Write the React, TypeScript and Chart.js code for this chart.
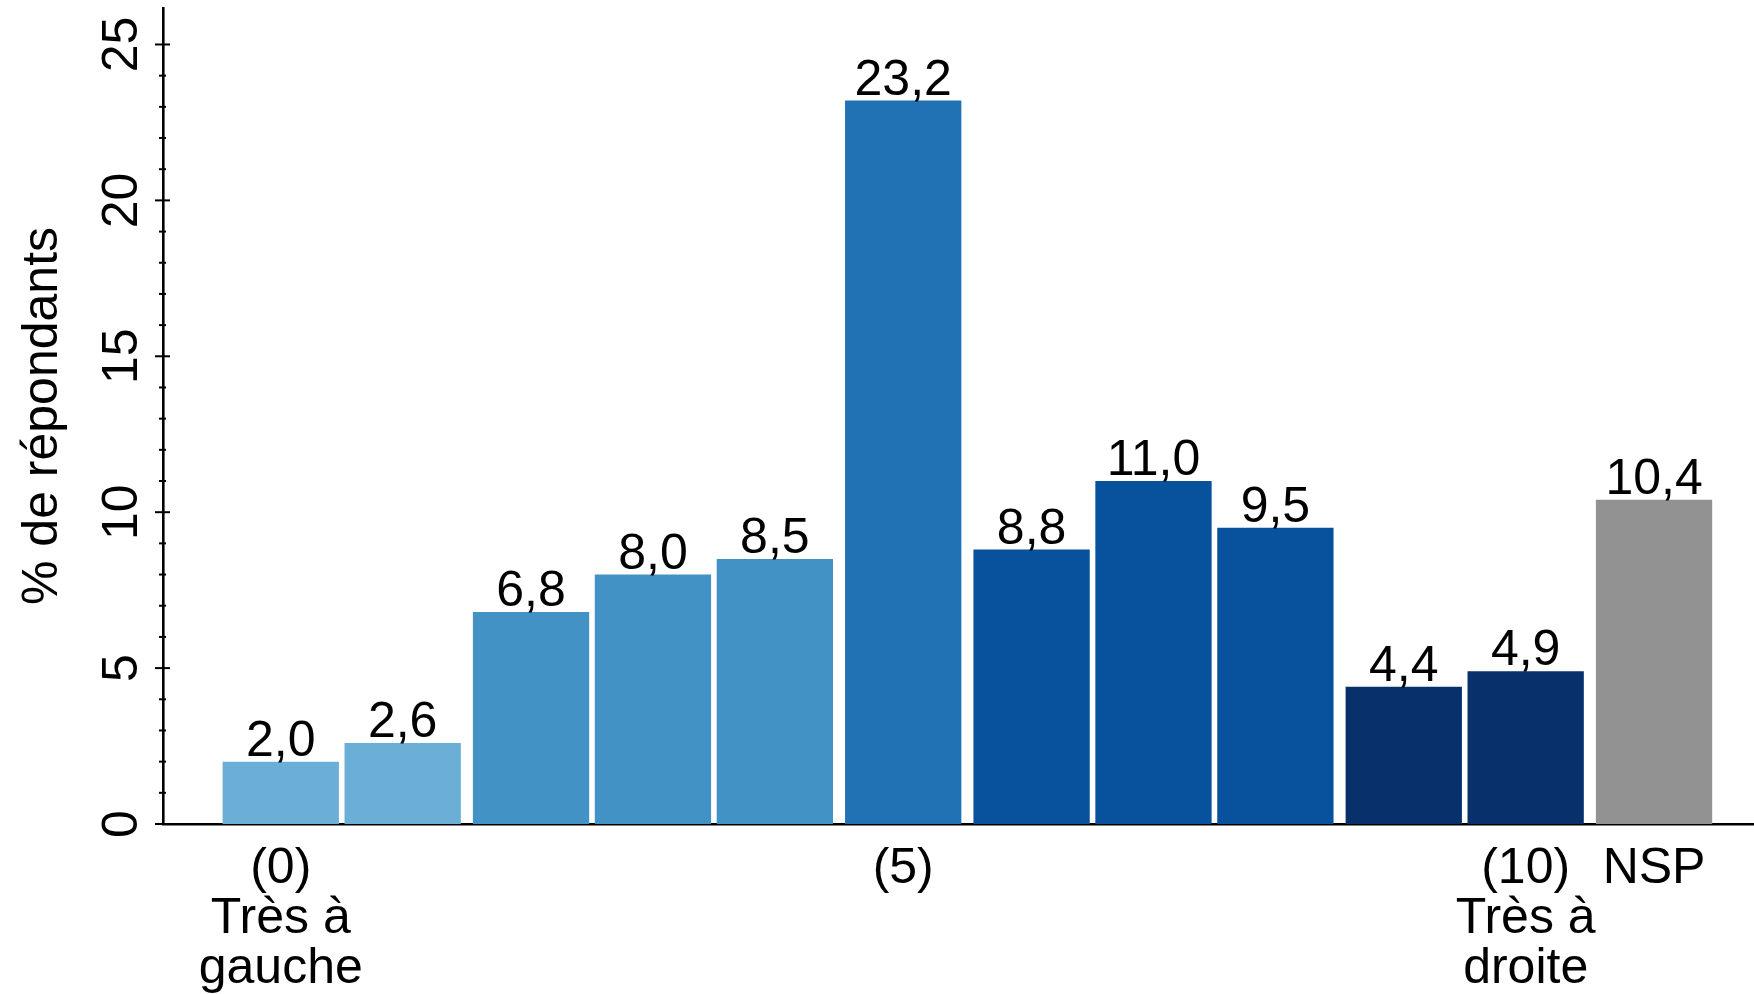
import React, { useEffect, useRef } from "react";
import { Chart, registerables } from "chart.js";

Chart.register(...registerables);

const FONT = "'Liberation Sans', Arial, sans-serif";

// ---- data ----
const categories = ["0", "1", "2", "3", "4", "5", "6", "7", "8", "9", "10", "NSP"];
const values = [2.0, 2.6, 6.8, 8.0, 8.5, 23.2, 8.8, 11.0, 9.5, 4.4, 4.9, 10.4];
const groups = [0, 0, 1, 1, 1, 2, 3, 3, 3, 4, 4, 5];
const barColors = [
  "#6baed6", "#6baed6",
  "#4292c6", "#4292c6", "#4292c6",
  "#2171b5",
  "#08519c", "#08519c", "#08519c",
  "#08306b", "#08306b",
  "#929292",
];
const xTickLabels: (string | string[])[] = [
  ["(0)", "Très à", "gauche"], "", "", "", "", "(5)", "", "", "", "",
  ["(10)", "Très à", "droite"], "NSP",
];
const yMajorTicks = [0, 5, 10, 15, 20, 25];
const yMinorTicks = [1, 2, 3, 4, 6, 7, 8, 9, 11, 12, 13, 14, 16, 17, 18, 19, 21, 22, 23, 24];
const yTitle = "% de répondants";

// ---- layout constants ----
const GROUP_GAP = 0.053;
const X_MIN = -0.966;
const X_MAX = 12.085;
const Y_MAX = 26.17;

const xPositions = categories.map((_, i) => i + groups[i] * GROUP_GAP);
const fmt = (v: number) => v.toFixed(1).replace(".", ",");

const overlayPlugin = {
  id: "overlay",
  afterDatasetsDraw(chart: any) {
    const ctx = chart.ctx as CanvasRenderingContext2D;
    const meta = chart.getDatasetMeta(0);
    const ys = chart.scales.y;
    const xs = chart.scales.x;
    ctx.save();
    ctx.fillStyle = "#000";
    ctx.font = `50px ${FONT}`;
    ctx.textAlign = "center";
    ctx.textBaseline = "alphabetic";
    meta.data.forEach((bar: any, i: number) => {
      ctx.fillText(fmt(values[i]), bar.x, bar.y - 6);
    });

    // x-axis category labels
    const axisY = ys.bottom;
    xTickLabels.forEach((lab, i) => {
      const lines = Array.isArray(lab) ? lab : [lab];
      const px = xs.getPixelForValue(xPositions[i]);
      lines.forEach((line, j) => {
        if (line) ctx.fillText(line, px, axisY + 59 + j * 50);
      });
    });

    // y-axis ticks
    const ax = ys.right;
    ctx.strokeStyle = "#000";
    ctx.lineWidth = 2;
    yMajorTicks.forEach((v) => {
      const py = ys.getPixelForValue(v);
      ctx.beginPath();
      ctx.moveTo(ax - 8, py);
      ctx.lineTo(ax + 7, py);
      ctx.stroke();
    });
    yMinorTicks.forEach((v) => {
      const py = ys.getPixelForValue(v);
      ctx.beginPath();
      ctx.moveTo(ax - 4, py);
      ctx.lineTo(ax + 3, py);
      ctx.stroke();
    });
    // y-axis tick labels (rotated)
    yMajorTicks.forEach((v) => {
      const py = ys.getPixelForValue(v);
      ctx.save();
      ctx.translate(ax - 26, py);
      ctx.rotate(-Math.PI / 2);
      ctx.textAlign = "center";
      ctx.textBaseline = "alphabetic";
      ctx.fillText(String(v), 0, 0);
      ctx.restore();
    });
    ctx.restore();
  },
};

export default function App() {
  const ref = useRef<HTMLCanvasElement | null>(null);

  useEffect(() => {
    if (!ref.current) return;
    Chart.defaults.font.family = FONT;
    const chart = new Chart(ref.current, {
      type: "bar",
      data: {
        datasets: [
          {
            data: xPositions.map((x, i) => ({ x, y: values[i] })),
            backgroundColor: barColors,
            borderWidth: 0,
            barPercentage: 0.954,
            categoryPercentage: 1.0,
          },
        ],
      },
      options: {
        animation: false,
        responsive: true,
        maintainAspectRatio: false,
        layout: { padding: { top: 8, left: 0, right: 0, bottom: 0 } },
        plugins: {
          legend: { display: false },
          tooltip: { enabled: false },
        },
        scales: {
          x: {
            type: "linear",
            offset: false,
            min: X_MIN,
            max: X_MAX,
            grid: { display: false, drawTicks: false },
            border: { display: true, color: "#000", width: 2.6 },
            ticks: { display: false },
            afterBuildTicks: (scale: any) => {
              scale.ticks = xPositions.map((v) => ({ value: v }));
            },
            afterFit: (scale: any) => {
              scale.height = 170;
            },
          },
          y: {
            type: "linear",
            min: 0,
            max: Y_MAX,
            grid: { display: false, drawTicks: false },
            border: { display: true, color: "#000", width: 2.6 },
            ticks: { display: false },
            afterFit: (scale: any) => {
              scale.width = 163;
            },
            title: {
              display: true,
              text: yTitle,
              color: "#000",
              font: { size: 50, lineHeight: 1 },
              padding: { top: 18, bottom: 0 },
            },
          },
        },
      },
      plugins: [overlayPlugin],
    });
    return () => chart.destroy();
  }, []);

  return (
    <div style={{ position: "fixed", left: 0, top: 0, width: 1754, height: 994, background: "#fff" }}>
      <canvas ref={ref} />
    </div>
  );
}
